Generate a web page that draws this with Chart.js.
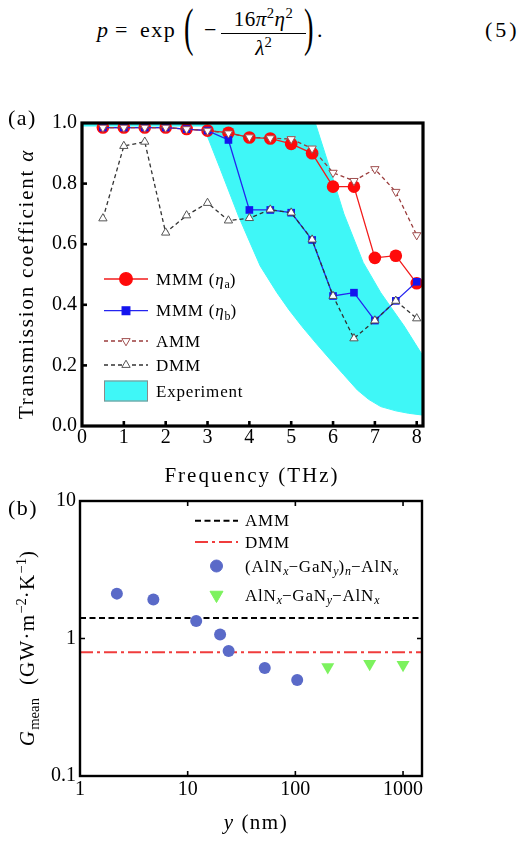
<!DOCTYPE html>
<html><head><meta charset="utf-8">
<script src="https://cdn.jsdelivr.net/npm/chart.js@4/dist/chart.umd.min.js"></script>
<style>
html,body{margin:0;padding:0;background:#fff;}
body{width:526px;height:841px;position:relative;overflow:hidden;font-family:'Liberation Serif',serif;color:#000;}
.m{position:absolute;line-height:1;white-space:nowrap;font-size:22px;}
.it{font-style:italic;}
sup{font-size:70%;vertical-align:0.55em;line-height:0;}
#ca{position:absolute;left:0;top:95px;}
#cb{position:absolute;left:0;top:485px;}
</style></head>
<body>
<div id="eq">
  <span class="m it" style="left:97px;top:19px;">p</span>
  <span class="m" style="left:115px;top:19px;">=</span>
  <span class="m" style="left:140px;top:19px;letter-spacing:1.5px;">exp</span>
  <span class="m" style="left:184px;top:2px;font-size:52px;transform:scaleX(0.55);transform-origin:left;">(</span>
  <span class="m" style="left:204px;top:19px;">−</span>
  <span class="m" style="left:221px;top:9px;width:85px;text-align:center;font-size:21px;letter-spacing:0.5px;">16<span class="it">π</span><sup>2</sup><span class="it">η</span><sup>2</sup></span>
  <div style="position:absolute;left:221px;top:33px;width:85px;height:1px;background:#000;"></div>
  <span class="m" style="left:221px;top:38px;width:85px;text-align:center;font-size:21px;"><span class="it">λ</span><sup>2</sup></span>
  <span class="m" style="left:304px;top:2px;font-size:52px;transform:scaleX(0.55);transform-origin:left;">)</span>
  <span class="m" style="left:317px;top:19px;">.</span>
  <span class="m" style="left:485px;top:19px;letter-spacing:3px;">(5)</span>
</div>
<canvas id="ca" width="526" height="400"></canvas>
<canvas id="cb" width="526" height="356"></canvas>
<script>
// ---------------- data: panel (a) ----------------
const freqTHz   = [0.5,1,1.5,2,2.5,3,3.5,4,4.5,5,5.5,6,6.5,7,7.5,8];
const mmmEtaA   = [0.985,0.985,0.985,0.985,0.98,0.975,0.968,0.952,0.949,0.931,0.90,0.79,0.79,0.555,0.562,0.471];
const mmmEtaB   = [0.985,0.985,0.985,0.985,0.98,0.975,0.944,0.713,0.713,0.704,0.614,0.429,0.44,0.348,0.413,0.476];
const ammA      = [0.985,0.985,0.985,0.985,0.98,0.975,0.966,0.953,0.950,0.947,0.916,0.836,0.809,0.848,0.773,0.63];
const dmmA      = [0.685,0.924,0.938,0.638,0.695,0.736,0.678,0.686,0.714,0.704,0.615,0.429,0.289,0.348,0.413,0.355];
const expUpperF = [0,5.53,5.9,6.26,6.72,7.14,7.7,8.2];
const expUpper  = [1.02,1.02,0.86,0.70,0.54,0.44,0.33,0.22];
const expLowerF = [8.2,7.8,7.5,7.14,6.85,6.58,6.25,5.94,5.6,5.26,4.95,4.66,4.26,4.0,3.74,3.3,2.9,0];
const expLower  = [0.035,0.042,0.05,0.064,0.088,0.119,0.17,0.218,0.272,0.328,0.383,0.44,0.528,0.61,0.693,0.85,0.99,0.99];
const xTicksA      = [0,1,2,3,4,5,6,7,8];
const xTickLabelsA = ['0','1','2','3','4','5','6','7','8'];
const yTicksA      = [0,0.2,0.4,0.6,0.8,1.0];
const yTickLabelsA = ['0.0','0.2','0.4','0.6','0.8','1.0'];

// ---------------- data: panel (b) ----------------
const layerYMulti  = [2.2,4.8,12,20,24,52,104];
const gMulti       = [2.12,1.92,1.34,1.07,0.81,0.61,0.50];
const layerYSingle = [200,490,1000];
const gSingle      = [0.62,0.655,0.645];
const ammLineX = [1,1500], ammLineG = [1.41,1.41];
const dmmLineX = [1,1500], dmmLineG = [0.795,0.795];
const xTicksB      = [1,10,100,1000];
const xTickLabelsB = ['1','10','100','1000'];
const yTicksB      = [0.1,1,10];
const yTickLabelsB = ['0.1','1','10'];

const FAM = "'Liberation Serif', 'Times New Roman', serif";
const pts = (xs, ys) => xs.map((x,i)=>({x, y: ys[i]}));

function drawRich(ctx, parts, x, y, o){
  const size = o.size;
  const segs = parts.map(p=>{
    const small = p.sub||p.sup;
    const s = small ? size*0.7 : size;
    const font = (p.it?'italic ':'') + s + 'px ' + FAM;
    ctx.font = font;
    ctx.letterSpacing = '0px';
    const ls = small ? 0 : (o.ls||0);
    const w = ctx.measureText(p.t).width + ls * [...p.t].length;
    return {t:p.t, font, ls, w, dy: p.sub ? size*0.22 : (p.sup ? -size*0.40 : 0)};
  });
  const total = segs.reduce((a,s)=>a+s.w,0);
  ctx.save();
  ctx.translate(x,y);
  if (o.rot) ctx.rotate(o.rot);
  ctx.fillStyle = o.color||'#000';
  ctx.textBaseline='alphabetic'; ctx.textAlign='left';
  let cx = o.align==='center' ? -total/2 : 0;
  for (const s of segs){ ctx.font=s.font; ctx.letterSpacing=s.ls+'px'; ctx.fillText(s.t,cx,s.dy); cx+=s.w; }
  ctx.letterSpacing='0px';
  ctx.restore();
}

function drawMarker(ctx, ds, x, y){
  const r = ds.pointRadius||0; if(!r) return;
  ctx.save();
  ctx.fillStyle = ds.pointBackgroundColor||ds.backgroundColor;
  ctx.strokeStyle = ds.pointBorderColor||ds.borderColor;
  ctx.lineWidth = ds.pointBorderWidth ?? 1;
  ctx.setLineDash([]);
  Chart.helpers.drawPoint(ctx, {pointStyle: ds.pointStyle, radius:r, rotation: ds.pointRotation||0, borderWidth: ctx.lineWidth}, x, y);
  ctx.restore();
}

const framePlugin = {
  id:'frame',
  afterDatasetsDraw(chart, args, o){
    const {ctx, chartArea:a, scales} = chart;
    ctx.save();
    ctx.strokeStyle='#000'; ctx.lineWidth=o.tickWidth; ctx.setLineDash([]);
    const L=o.tickLen;
    for (const t of scales.x.ticks){
      const px = scales.x.getPixelForValue(t.value);
      if (px < a.left+2 || px > a.right-2) continue;
      ctx.beginPath();
      if (o.xSides.includes('bottom')){ ctx.moveTo(px,a.bottom); ctx.lineTo(px,a.bottom-L); }
      if (o.xSides.includes('top')){ ctx.moveTo(px,a.top); ctx.lineTo(px,a.top+L); }
      ctx.stroke();
    }
    for (const t of scales.y.ticks){
      const py = scales.y.getPixelForValue(t.value);
      if (py < a.top+2 || py > a.bottom-2) continue;
      ctx.beginPath();
      if (o.ySides.includes('left')){ ctx.moveTo(a.left,py); ctx.lineTo(a.left+L,py); }
      if (o.ySides.includes('right')){ ctx.moveTo(a.right,py); ctx.lineTo(a.right-L,py); }
      ctx.stroke();
    }
    ctx.lineWidth=o.border;
    ctx.strokeRect(a.left,a.top,a.right-a.left,a.bottom-a.top);
    ctx.restore();
  },
  afterDraw(chart, args, o){
    const ctx = chart.ctx;
    for (const it of (o.legend||[])){
      const ds = chart.data.datasets[it.ds];
      ctx.save();
      if (it.box){
        ctx.fillStyle = ds.backgroundColor; ctx.strokeStyle='#8a8a8a'; ctx.lineWidth=1;
        ctx.fillRect(it.x0, it.y-it.h/2, it.x1-it.x0, it.h);
        ctx.strokeRect(it.x0+0.5, it.y-it.h/2+0.5, it.x1-it.x0-1, it.h-1);
      } else {
        if (ds.showLine !== false && it.line !== false){
          ctx.strokeStyle = ds.borderColor; ctx.lineWidth = ds.borderWidth;
          ctx.setLineDash(ds.borderDash||[]);
          ctx.beginPath(); ctx.moveTo(it.x0,it.y); ctx.lineTo(it.x1,it.y); ctx.stroke();
        }
        if (it.marker !== false) drawMarker(ctx, ds, (it.x0+it.x1)/2, it.y);
      }
      ctx.restore();
      drawRich(ctx, it.parts, it.tx, it.y + o.legendSize*0.33, {size:o.legendSize, ls:o.legendLs});
    }
    for (const t of (o.texts||[])) drawRich(ctx, t.parts, t.x, t.y, t);
  }
};

// ---------------- chart (a) ----------------
const cyan = '#3ff7f7';
new Chart(document.getElementById('ca'), {
  type:'line',
  data:{ datasets:[
    { label:'Experiment', data: pts(expUpperF,expUpper).concat(pts(expLowerF,expLower)),
      fill:'shape', backgroundColor:cyan, borderColor:cyan, borderWidth:1, pointRadius:0, tension:0, order:5 },
    { label:'MMM (ηa)', data: pts(freqTHz,mmmEtaA), borderColor:'#f21b1b', backgroundColor:'#ff0a0a',
      pointBackgroundColor:'#ff0a0a', pointBorderColor:'#ff0a0a', borderWidth:1.3, pointStyle:'circle', pointRadius:6.3, pointBorderWidth:0, order:4 },
    { label:'MMM (ηb)', data: pts(freqTHz,mmmEtaB), borderColor:'#2424f0', backgroundColor:'#1414ee',
      pointBackgroundColor:'#1414ee', pointBorderColor:'#1414ee', borderWidth:1.3, pointStyle:'rect', pointRadius:5.4, pointBorderWidth:0, order:3 },
    { label:'AMM', data: pts(freqTHz,ammA), borderColor:'#9a3c3c', borderDash:[4,3], borderWidth:1.3,
      pointBackgroundColor:'#ffffff', pointBorderColor:'#a05050', pointStyle:'triangle', pointRotation:180, pointRadius:4.8, pointBorderWidth:1, order:2 },
    { label:'DMM', data: pts(freqTHz,dmmA), borderColor:'#333333', borderDash:[4,3], borderWidth:1.3,
      pointBackgroundColor:'#ffffff', pointBorderColor:'#555555', pointStyle:'triangle', pointRadius:4.8, pointBorderWidth:1, order:1 }
  ]},
  options:{
    responsive:false, animation:false, devicePixelRatio:1,
    layout:{padding:{left:0,top:28,right:103,bottom:0}},
    plugins:{ legend:{display:false}, tooltip:{enabled:false},
      frame:{ tickLen:5, tickWidth:2.6, border:3.2, xSides:['bottom'], ySides:['left'], legendSize:17, legendLs:0.8,
        legend:[
          {ds:1, x0:104, x1:148, y:184, tx:156, parts:[{t:'MMM ('},{t:'η',it:true},{t:'a',sub:true},{t:')'}]},
          {ds:2, x0:104, x1:148, y:215.7, tx:156, parts:[{t:'MMM ('},{t:'η',it:true},{t:'b',sub:true},{t:')'}]},
          {ds:3, x0:104, x1:148, y:246, tx:156, parts:[{t:'AMM'}]},
          {ds:4, x0:104, x1:148, y:270, tx:156, parts:[{t:'DMM'}]},
          {ds:0, box:true, x0:104, x1:148, y:296, h:21, tx:156, parts:[{t:'Experiment'}]}
        ],
        texts:[
          {parts:[{t:'(a)'}], x:8, y:30, size:22, ls:1.5},
          {parts:[{t:'Frequency (THz)'}], x:252, y:387, size:21, align:'center', ls:2},
          {parts:[{t:'Transmission coefficient '},{t:'α',it:true}], x:33, y:189, size:21, align:'center', rot:-Math.PI/2, ls:1.8}
        ]}
    },
    scales:{
      x:{ type:'linear', min:0, max:8.15,
          afterBuildTicks(s){ s.ticks = xTicksA.map(v=>({value:v})); },
          afterFit(s){ s.height = 69; },
          ticks:{ callback:(v)=>xTickLabelsA[xTicksA.indexOf(v)], color:'#000', font:{family:FAM,size:20}, padding:0, maxRotation:0, autoSkip:false },
          grid:{display:false, drawTicks:false}, border:{display:false} },
      y:{ type:'linear', min:0, max:1.0,
          afterBuildTicks(s){ s.ticks = yTicksA.map(v=>({value:v})); },
          afterFit(s){ s.width = 82; },
          ticks:{ callback:(v)=>yTickLabelsA[yTicksA.findIndex(t=>Math.abs(t-v)<1e-9)], color:'#000', font:{family:FAM,size:20}, padding:5, autoSkip:false },
          grid:{display:false, drawTicks:false}, border:{display:false} }
    }
  },
  plugins:[framePlugin]
});

// ---------------- chart (b) ----------------
new Chart(document.getElementById('cb'), {
  type:'scatter',
  data:{ datasets:[
    { label:'AMM', data: pts(ammLineX,ammLineG), showLine:true, borderColor:'#000', borderDash:[6,3.5], borderWidth:2, pointRadius:0, order:4 },
    { label:'DMM', data: pts(dmmLineX,dmmLineG), showLine:true, borderColor:'#f03c3c', borderDash:[13,4,3,4], borderWidth:2, pointRadius:0, order:3 },
    { label:'multi', data: pts(layerYMulti,gMulti), showLine:false, backgroundColor:'#5a6ac8', pointBackgroundColor:'#5a6ac8', pointBorderColor:'#5a6ac8',
      pointStyle:'circle', pointRadius:6, pointBorderWidth:0, order:2 },
    { label:'single', data: pts(layerYSingle,gSingle), showLine:false, backgroundColor:'#7cf25e', pointBackgroundColor:'#7cf25e', pointBorderColor:'#7cf25e',
      pointStyle:'triangle', pointRotation:180, pointRadius:7.5, pointBorderWidth:0, order:1 }
  ]},
  options:{
    responsive:false, animation:false, devicePixelRatio:1,
    layout:{padding:{left:0,top:16,right:104,bottom:0}},
    plugins:{ legend:{display:false}, tooltip:{enabled:false},
      frame:{ tickLen:5, tickWidth:1.6, border:2.4, xSides:['bottom','top'], ySides:['left','right'], legendSize:17, legendLs:0.8,
        legend:[
          {ds:0, x0:195, x1:238, y:35.7, tx:245, parts:[{t:'AMM'}]},
          {ds:1, x0:195, x1:238, y:57, tx:245, parts:[{t:'DMM'}]},
          {ds:2, x0:195, x1:238, y:81, tx:245, line:false, parts:[{t:'(AlN'},{t:'x',it:true,sub:true},{t:'−GaN'},{t:'y',it:true,sub:true},{t:')'},{t:'n',it:true,sub:true},{t:'−AlN'},{t:'x',it:true,sub:true}]},
          {ds:3, x0:195, x1:238, y:110, tx:245, line:false, parts:[{t:'AlN'},{t:'x',it:true,sub:true},{t:'−GaN'},{t:'y',it:true,sub:true},{t:'−AlN'},{t:'x',it:true,sub:true}]}
        ],
        texts:[
          {parts:[{t:'(b)'}], x:8, y:30, size:22, ls:1.5},
          {parts:[{t:'y',it:true},{t:' (nm)'}], x:256, y:344, size:21, align:'center', ls:1.5},
          {parts:[{t:'G',it:true},{t:'mean',sub:true},{t:'  (GW·m'},{t:'−2',sup:true},{t:'·K'},{t:'−1',sup:true},{t:')'}], x:34, y:163, size:21, align:'center', rot:-Math.PI/2, ls:1.2}
        ]}
    },
    scales:{
      x:{ type:'logarithmic', min:1, max:1500,
          afterBuildTicks(s){ s.ticks = xTicksB.map(v=>({value:v})); },
          afterFit(s){ s.height = 65; },
          ticks:{ callback:(v)=>xTickLabelsB[xTicksB.indexOf(v)], color:'#000', font:{family:FAM,size:20}, padding:2, maxRotation:0, autoSkip:false },
          grid:{display:false, drawTicks:false}, border:{display:false} },
      y:{ type:'logarithmic', min:0.1, max:10,
          afterBuildTicks(s){ s.ticks = yTicksB.map(v=>({value:v})); },
          afterFit(s){ s.width = 80; },
          ticks:{ callback:(v)=>yTickLabelsB[yTicksB.findIndex(t=>Math.abs(t-v)<1e-9)], color:'#000', font:{family:FAM,size:20}, padding:4, autoSkip:false },
          grid:{display:false, drawTicks:false}, border:{display:false} }
    }
  },
  plugins:[framePlugin]
});
</script>
</body></html>
